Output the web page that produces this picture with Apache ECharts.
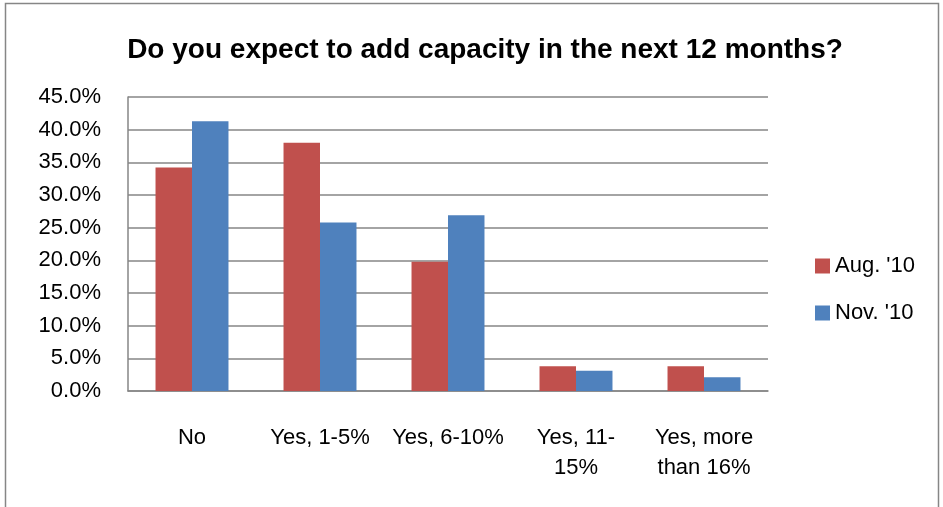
<!DOCTYPE html>
<html><head><meta charset="utf-8">
<script src="https://cdn.jsdelivr.net/npm/echarts@6/dist/echarts.min.js"></script>
<style>html,body{margin:0;padding:0;background:#fff}#c{width:943px;height:507px}</style>
</head><body><div id="c"></div>
<script>
var titleText = "Do you expect to add capacity in the next 12 months?";
var categories = ["No", "Yes, 1-5%", "Yes, 6-10%", "Yes, 11-15%", "Yes, more than 16%"];
var categoryLabels = {"Yes, 11-15%": "Yes, 11-\n15%", "Yes, more than 16%": "Yes, more\nthan 16%"};
var seriesNames = ["Aug. '10", "Nov. '10"];
var aug10 = [34.2, 38.0, 19.8, 3.8, 3.8];
var nov10 = [41.3, 25.8, 26.9, 3.1, 2.1];
var yTicks = {min: 0, max: 45, interval: 5};

var font = "'Liberation Sans', Arial, sans-serif";
var chart = echarts.init(document.getElementById('c'), null, {renderer: 'canvas'});
chart.setOption({
  animation: false,
  backgroundColor: '#fff',
  title: {
    text: titleText, left: 480, top: 31, textAlign: 'center',
    textStyle: {fontFamily: font, fontSize: 28, fontWeight: 'bold', color: '#000'}
  },
  grid: {left: 128, right: 175, top: 97, bottom: 116, containLabel: false},
  legend: {
    orient: 'vertical', left: 810, top: 250, itemWidth: 15, itemHeight: 15, itemGap: 25,
    icon: 'rect', data: seriesNames,
    textStyle: {fontFamily: font, fontSize: 22, color: '#000'}
  },
  xAxis: {
    type: 'category', data: categories,
    axisLine: {lineStyle: {color: '#868686', width: 1.5}},
    axisTick: {show: false},
    axisLabel: {
      fontFamily: font, fontSize: 22, color: '#000', margin: 32, interval: 0, lineHeight: 30,
      formatter: function (v) { return categoryLabels[v] || v; }
    }
  },
  yAxis: {
    type: 'value', min: yTicks.min, max: yTicks.max, interval: yTicks.interval,
    axisLine: {show: true, lineStyle: {color: '#868686', width: 1.5}},
    axisTick: {show: false},
    splitLine: {lineStyle: {color: '#868686', width: 1.5}},
    axisLabel: {
      fontFamily: font, fontSize: 22, color: '#000', margin: 27,
      formatter: function (v) { return v.toFixed(1) + '%'; }
    }
  },
  series: [
    {name: seriesNames[0], type: 'bar', data: aug10, barGap: '0%', barCategoryGap: '43%',
     itemStyle: {color: '#C0504D'}},
    {name: seriesNames[1], type: 'bar', data: nov10, barGap: '0%', barCategoryGap: '43%',
     itemStyle: {color: '#4F81BD'}}
  ],
  graphic: [{
    type: 'rect', silent: true, z: 100,
    shape: {x: 5.5, y: 3.5, width: 933, height: 530},
    style: {fill: 'none', stroke: '#868686', lineWidth: 1.5}
  }]
});
</script></body></html>
